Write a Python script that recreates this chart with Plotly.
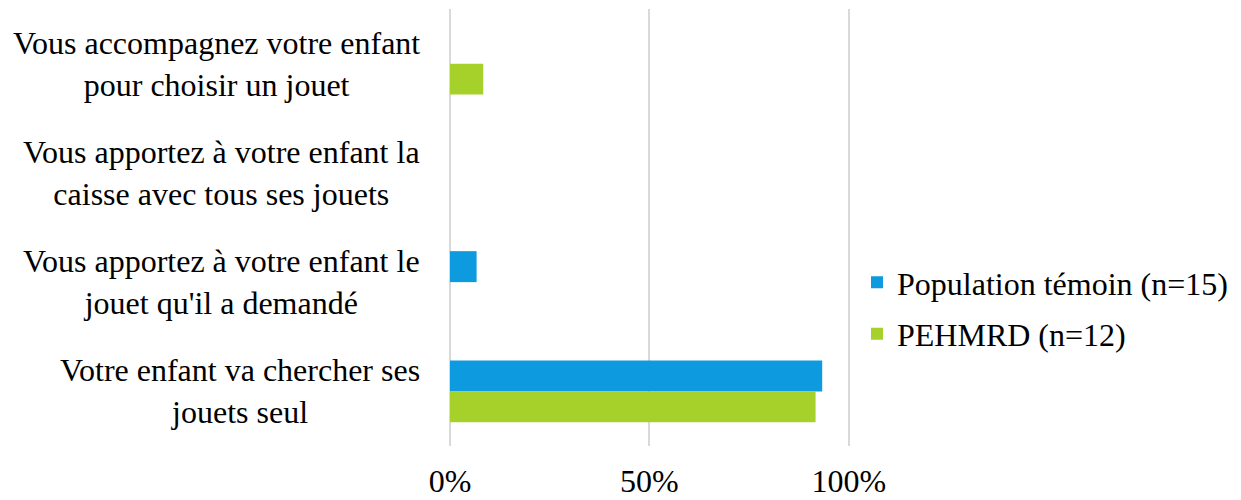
import plotly.graph_objects as go

categories = [
    "Vous accompagnez votre enfant<br>pour choisir un jouet",
    "Vous apportez à votre enfant la<br>caisse avec tous ses jouets",
    "Vous apportez à votre enfant le<br>jouet qu'il a demandé",
    "Votre enfant va chercher ses<br>jouets seul",
]
temoin = [0.0, 0.0, 0.0667, 0.9333]
pehmrd = [0.0833, 0.0, 0.0, 0.9167]
x_ticks = [0, 0.5, 1.0]
x_ticklabels = ["0%", "50%", "100%"]

FONT = "Liberation Serif"
BLUE = "#0D9ADF"
GREEN = "#A6D12B"
GRID = "#D9D9D9"

# page body has an 8px margin: figure is sized/shifted to land at the reference positions
fig = go.Figure()
fig.add_trace(go.Bar(y=categories, x=temoin, orientation="h", name="Population témoin (n=15)",
                     marker=dict(color=BLUE, line=dict(width=0)), legendgroup="a"))
fig.add_trace(go.Bar(y=categories, x=pehmrd, orientation="h", name="PEHMRD (n=12)",
                     marker=dict(color=GREEN, line=dict(width=0)), legendgroup="b"))

for c in categories:
    fig.add_annotation(x=0, y=c, xref="x", yref="y", text=c, showarrow=False,
                       xanchor="right", yanchor="middle", align="center", xshift=-28,
                       font=dict(family=FONT, size=32, color="black"))

fig.update_layout(
    width=1233, height=492,
    margin=dict(l=442, r=391, t=1, b=54, autoexpand=False),
    paper_bgcolor="white", plot_bgcolor="white",
    barmode="group", bargap=0.433, bargroupgap=0,
    font=dict(family=FONT, size=32, color="black"),
    showlegend=True,
    legend=dict(x=1.0175, y=0.315, xanchor="left", yanchor="middle",
                font=dict(family=FONT, size=32, color="black"),
                tracegroupgap=7, traceorder="grouped", bgcolor="rgba(0,0,0,0)"),
    xaxis=dict(range=[0, 1.003], tickvals=x_ticks, ticktext=x_ticklabels,
               showgrid=True, gridcolor=GRID, gridwidth=1.5,
               zeroline=True, zerolinecolor=GRID, zerolinewidth=1.5,
               showline=False, ticks="outside", ticklen=7, tickcolor="rgba(0,0,0,0)",
               tickfont=dict(family=FONT, size=32, color="black")),
    yaxis=dict(autorange="reversed", showticklabels=False, showgrid=False,
               zeroline=False, showline=False, ticks=""),
)

fig.write_html("out.html")
